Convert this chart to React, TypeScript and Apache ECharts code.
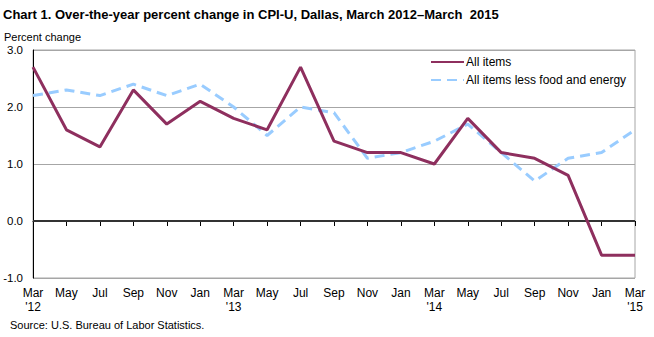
import React, { useEffect, useRef } from "react";
import * as echarts from "echarts";

const categories = [
  "Mar\n'12", "May", "Jul", "Sep", "Nov", "Jan",
  "Mar\n'13", "May", "Jul", "Sep", "Nov", "Jan",
  "Mar\n'14", "May", "Jul", "Sep", "Nov", "Jan",
  "Mar\n'15",
];
const allItems = [2.7, 1.6, 1.3, 2.3, 1.7, 2.1, 1.8, 1.6, 2.7, 1.4, 1.2, 1.2, 1.0, 1.8, 1.2, 1.1, 0.8, -0.6, -0.6];
const core = [2.2, 2.3, 2.2, 2.4, 2.2, 2.4, 2.0, 1.5, 2.0, 1.9, 1.1, 1.2, 1.4, 1.7, 1.2, 0.7, 1.1, 1.2, 1.6];
const seriesNames = ["All items", "All items less food and energy"];
const titleText = "Chart 1. Over-the-year percent change in CPI-U, Dallas, March 2012\u2013March  2015";
const yAxisTitle = "Percent change";
const sourceText = "Source: U.S. Bureau of Labor Statistics.";

const FONT = "'Liberation Sans', Arial, sans-serif";

export default function App() {
  const ref = useRef<HTMLDivElement>(null);
  useEffect(() => {
    document.body.style.margin = "0";
    const chart = echarts.init(ref.current!, null, { renderer: "svg" });
    chart.setOption({
      animation: false,
      backgroundColor: "#ffffff",
      textStyle: { fontFamily: FONT },
      grid: {
        left: 33, right: 19, top: 50, bottom: 59,
        show: true, borderColor: "#a6a6a6", borderWidth: 1,
      },
      graphic: [
        {
          type: "text", x: 3, y: 8,
          style: { text: titleText, font: `bold 13px ${FONT}`, fill: "#000" },
        },
        {
          type: "text", x: 4, y: 31,
          style: { text: yAxisTitle, font: `11px ${FONT}`, fill: "#000" },
        },
        {
          type: "text", x: 10, y: 319,
          style: { text: sourceText, font: `11px ${FONT}`, fill: "#000" },
        },
      ],
      legend: {
        orient: "vertical",
        left: 430, top: 56, padding: 0,
        itemWidth: 33, itemHeight: 12, itemGap: 6,
        itemStyle: { opacity: 0 },
        textStyle: { fontFamily: FONT, fontSize: 12, color: "#000", padding: [0, 0, 0, -3] },
        data: seriesNames,
      },
      xAxis: {
        type: "category",
        data: categories,
        boundaryGap: false,
        axisLine: { lineStyle: { color: "#000", width: 1 } },
        axisTick: { show: true, inside: false, length: 5, alignWithLabel: true, lineStyle: { color: "#000" } },
        axisLabel: {
          interval: 0, color: "#000", fontFamily: FONT, fontSize: 12,
          margin: 8, lineHeight: 14, align: "center",
        },
        splitLine: { show: false },
      },
      yAxis: {
        type: "value",
        min: -1, max: 3, interval: 1,
        axisLine: { show: true, lineStyle: { color: "#000", width: 1 } },
        axisTick: { show: false },
        axisLabel: {
          color: "#000", fontFamily: FONT, fontSize: 11.5, margin: 10,
          formatter: (v: number) => v.toFixed(1),
        },
        splitLine: { show: true, lineStyle: { color: "#a6a6a6", width: 1 } },
      },
      series: [
        {
          name: seriesNames[0],
          type: "line",
          data: allItems,
          symbol: "none",
          itemStyle: { color: "#8e2f5e" },
          lineStyle: { color: "#8e2f5e", width: 3 },
          z: 3,
          markLine: {
            silent: true,
            symbol: "none",
            label: { show: false },
            lineStyle: { color: "#333333", width: 2, type: "solid" },
            data: [{ yAxis: 0 }],
            z: 1,
          },
        },
        {
          name: seriesNames[1],
          type: "line",
          data: core,
          symbol: "none",
          itemStyle: { color: "#99ccff" },
          lineStyle: { color: "#99ccff", width: 3, type: [10, 6] },
          z: 2,
        },
      ],
    });
    return () => chart.dispose();
  }, []);
  return <div ref={ref} style={{ width: 654, height: 337 }} />;
}
